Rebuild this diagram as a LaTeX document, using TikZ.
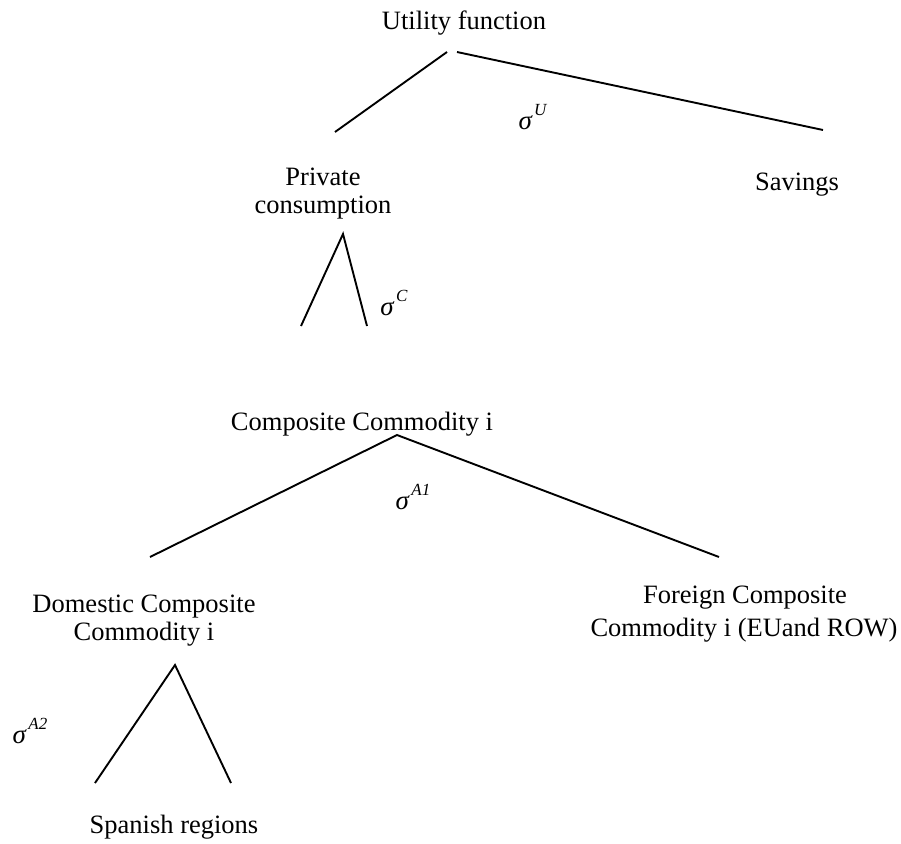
\documentclass[tikz,border=0pt]{standalone}
\usepackage{fontspec}
\setmainfont{Liberation Serif}
\newcommand{\sigmalabel}[1]{\textit{σ}\kern1.5pt\raisebox{0.5em}{\fontsize{17}{17}\selectfont\textit{#1}}}
\begin{document}
\begin{tikzpicture}[x=1pt,y=-1pt,
  lbl/.style={inner sep=0pt,font=\fontsize{26.5}{30}\selectfont,anchor=base},
  sig/.style={inner sep=0pt,font=\fontsize{27}{30}\selectfont},
  edge/.style={line width=1.9pt}]
\useasboundingbox (0,0) rectangle (901,843);
\node[lbl] (util) at (464,30) {Utility function};
\node[lbl] (priv1) at (323,185) {Private};
\node[lbl] (priv2) at (323,213) {consumption};
\node[lbl] (sav) at (797,190) {Savings};
\node[lbl] (comp) at (362,430) {Composite Commodity i};
\node[lbl] (dom1) at (144,612) {Domestic Composite};
\node[lbl] (dom2) at (144,640) {Commodity i};
\node[lbl] (for1) at (745,603) {Foreign Composite};
\node[lbl] (for2) at (744,636) {Commodity i (EUand ROW)};
\node[lbl] (spa) at (174,833) {Spanish regions};
\node[sig] (su) at (533,117) {\sigmalabel{U}};
\node[sig] (sc) at (394,303) {\sigmalabel{C}};
\node[sig] (sa1) at (413,497) {\sigmalabel{A1}};
\node[sig] (sa2) at (30,731) {\sigmalabel{A2}};
\coordinate (u1) at (447,52);
\coordinate (u2) at (457,52);
\coordinate (ul) at (335,132);
\coordinate (ur) at (823,130);
\coordinate (ca) at (343,234);
\coordinate (cl) at (301,326);
\coordinate (cr) at (367,326);
\coordinate (aa) at (397,435);
\coordinate (al) at (150,557);
\coordinate (ar) at (719,557);
\coordinate (da) at (175,665);
\coordinate (dl) at (95,783);
\coordinate (dr) at (231,783);
\draw[edge] (ul) -- (u1);
\draw[edge] (u2) -- (ur);
\draw[edge] (cl) -- (ca) -- (cr);
\draw[edge] (al) -- (aa) -- (ar);
\draw[edge] (dl) -- (da) -- (dr);
\end{tikzpicture}
\end{document}
